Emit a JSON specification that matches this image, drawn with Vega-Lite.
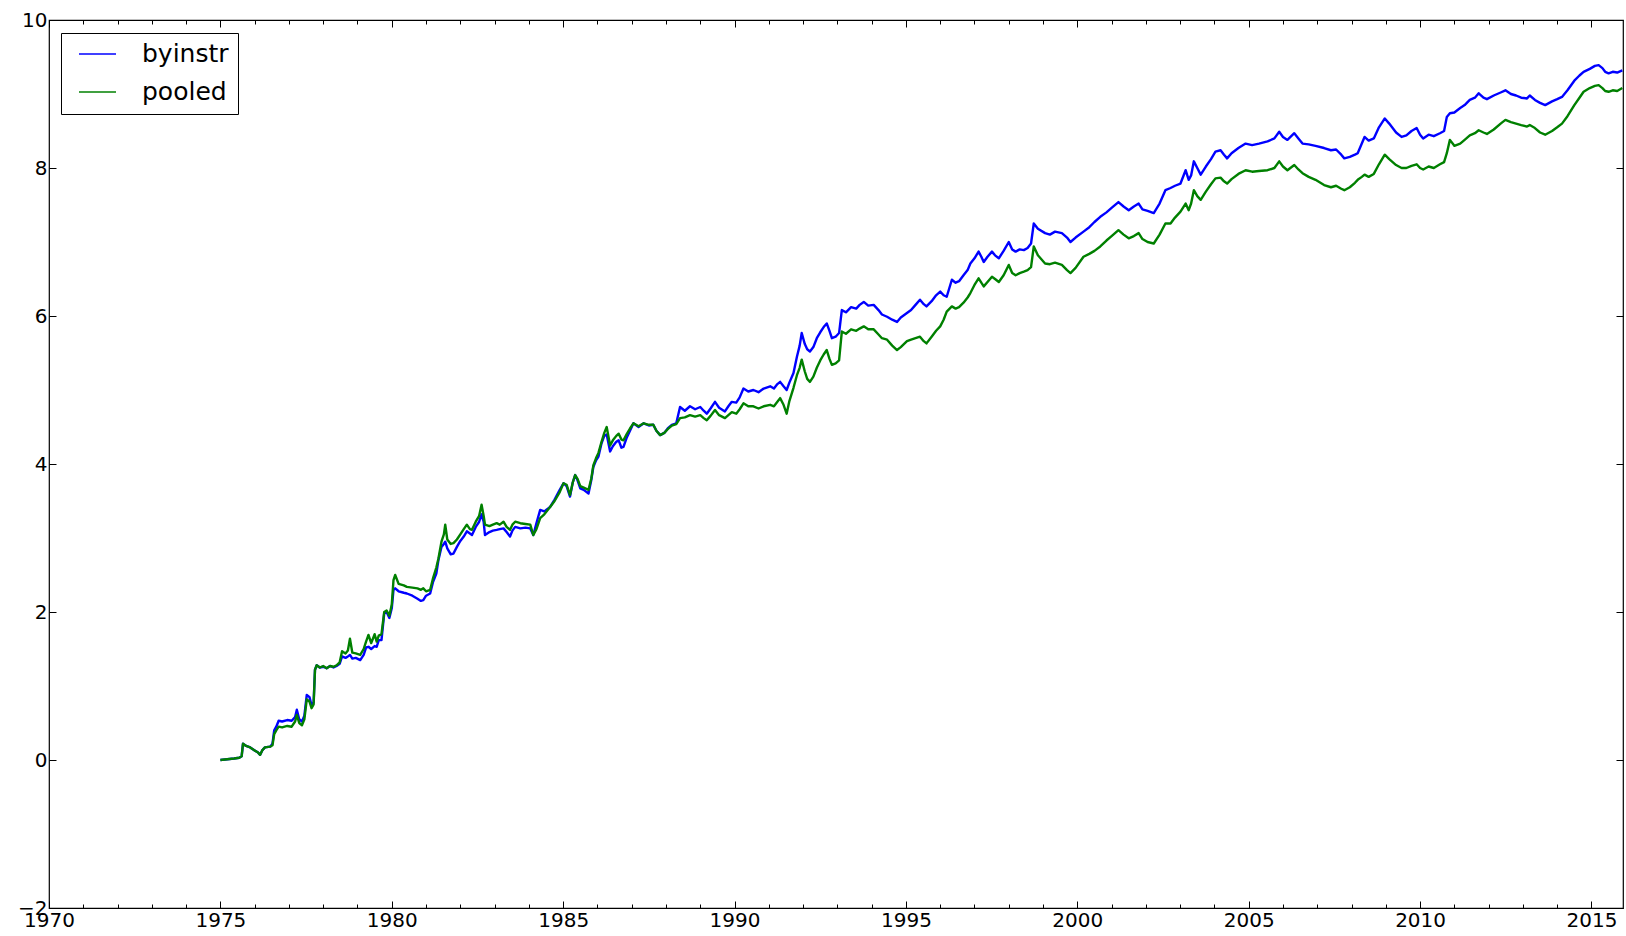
{
  "$schema": "https://vega.github.io/schema/vega-lite/v6.json",
  "width": 1574,
  "height": 888,
  "autosize": "none",
  "padding": {"left": 49, "top": 20, "right": 3, "bottom": 28},
  "background": "#ffffff",
  "config": {
    "view": {"stroke": "#000000", "strokeWidth": 1.2},
    "axis": {
      "domain": false,
      "grid": false,
      "labelFont": "DejaVu Sans",
      "labelFontSize": 20,
      "labelColor": "#000000",
      "tickColor": "#000000",
      "tickWidth": 1,
      "title": null
    }
  },
  "data": {
    "values": [
      {"year": 1975.00, "byinstr": 0.00, "pooled": 0.00},
      {"year": 1975.20, "byinstr": 0.01, "pooled": 0.01},
      {"year": 1975.40, "byinstr": 0.02, "pooled": 0.02},
      {"year": 1975.55, "byinstr": 0.03, "pooled": 0.03},
      {"year": 1975.62, "byinstr": 0.05, "pooled": 0.05},
      {"year": 1975.66, "byinstr": 0.22, "pooled": 0.22},
      {"year": 1975.75, "byinstr": 0.19, "pooled": 0.19},
      {"year": 1975.87, "byinstr": 0.17, "pooled": 0.17},
      {"year": 1976.00, "byinstr": 0.13, "pooled": 0.13},
      {"year": 1976.10, "byinstr": 0.10, "pooled": 0.10},
      {"year": 1976.16, "byinstr": 0.07, "pooled": 0.07},
      {"year": 1976.22, "byinstr": 0.13, "pooled": 0.13},
      {"year": 1976.30, "byinstr": 0.17, "pooled": 0.17},
      {"year": 1976.45, "byinstr": 0.18, "pooled": 0.18},
      {"year": 1976.52, "byinstr": 0.22, "pooled": 0.20},
      {"year": 1976.57, "byinstr": 0.40, "pooled": 0.35},
      {"year": 1976.63, "byinstr": 0.45, "pooled": 0.40},
      {"year": 1976.70, "byinstr": 0.53, "pooled": 0.45},
      {"year": 1976.80, "byinstr": 0.52, "pooled": 0.44},
      {"year": 1976.95, "byinstr": 0.54, "pooled": 0.46},
      {"year": 1977.08, "byinstr": 0.53, "pooled": 0.45},
      {"year": 1977.18, "byinstr": 0.58, "pooled": 0.52},
      {"year": 1977.23, "byinstr": 0.68, "pooled": 0.61},
      {"year": 1977.30, "byinstr": 0.55, "pooled": 0.50},
      {"year": 1977.38, "byinstr": 0.52, "pooled": 0.47},
      {"year": 1977.45, "byinstr": 0.60, "pooled": 0.55},
      {"year": 1977.52, "byinstr": 0.88, "pooled": 0.82},
      {"year": 1977.60, "byinstr": 0.85, "pooled": 0.79},
      {"year": 1977.66, "byinstr": 0.74, "pooled": 0.70},
      {"year": 1977.72, "byinstr": 0.78, "pooled": 0.75},
      {"year": 1977.76, "byinstr": 1.22, "pooled": 1.22},
      {"year": 1977.81, "byinstr": 1.28, "pooled": 1.28},
      {"year": 1977.90, "byinstr": 1.25, "pooled": 1.25},
      {"year": 1978.00, "byinstr": 1.26, "pooled": 1.27},
      {"year": 1978.10, "byinstr": 1.24, "pooled": 1.24},
      {"year": 1978.20, "byinstr": 1.27, "pooled": 1.27},
      {"year": 1978.30, "byinstr": 1.25, "pooled": 1.26},
      {"year": 1978.39, "byinstr": 1.27, "pooled": 1.28},
      {"year": 1978.48, "byinstr": 1.30, "pooled": 1.32},
      {"year": 1978.55, "byinstr": 1.40, "pooled": 1.47},
      {"year": 1978.65, "byinstr": 1.38, "pooled": 1.44},
      {"year": 1978.72, "byinstr": 1.40, "pooled": 1.48},
      {"year": 1978.78, "byinstr": 1.42, "pooled": 1.64},
      {"year": 1978.85, "byinstr": 1.37, "pooled": 1.45},
      {"year": 1978.95, "byinstr": 1.38, "pooled": 1.44},
      {"year": 1979.08, "byinstr": 1.35, "pooled": 1.42},
      {"year": 1979.18, "byinstr": 1.42, "pooled": 1.50},
      {"year": 1979.25, "byinstr": 1.52, "pooled": 1.60},
      {"year": 1979.32, "byinstr": 1.53, "pooled": 1.69},
      {"year": 1979.40, "byinstr": 1.50, "pooled": 1.58},
      {"year": 1979.50, "byinstr": 1.54, "pooled": 1.70},
      {"year": 1979.56, "byinstr": 1.53, "pooled": 1.60},
      {"year": 1979.62, "byinstr": 1.62, "pooled": 1.68},
      {"year": 1979.70, "byinstr": 1.62, "pooled": 1.70},
      {"year": 1979.78, "byinstr": 1.98, "pooled": 2.00},
      {"year": 1979.85, "byinstr": 2.00, "pooled": 2.02},
      {"year": 1979.93, "byinstr": 1.92, "pooled": 1.95},
      {"year": 1980.00, "byinstr": 2.05, "pooled": 2.10},
      {"year": 1980.05, "byinstr": 2.30, "pooled": 2.43},
      {"year": 1980.10, "byinstr": 2.32, "pooled": 2.50},
      {"year": 1980.20, "byinstr": 2.28, "pooled": 2.38},
      {"year": 1980.35, "byinstr": 2.26, "pooled": 2.36},
      {"year": 1980.44, "byinstr": 2.25, "pooled": 2.34},
      {"year": 1980.60, "byinstr": 2.22, "pooled": 2.33},
      {"year": 1980.75, "byinstr": 2.18, "pooled": 2.32},
      {"year": 1980.85, "byinstr": 2.15, "pooled": 2.30},
      {"year": 1980.92, "byinstr": 2.16, "pooled": 2.32},
      {"year": 1981.00, "byinstr": 2.22, "pooled": 2.28},
      {"year": 1981.12, "byinstr": 2.25, "pooled": 2.30},
      {"year": 1981.20, "byinstr": 2.40, "pooled": 2.45},
      {"year": 1981.30, "byinstr": 2.52, "pooled": 2.60},
      {"year": 1981.36, "byinstr": 2.70, "pooled": 2.72},
      {"year": 1981.45, "byinstr": 2.88, "pooled": 2.95},
      {"year": 1981.52, "byinstr": 2.92, "pooled": 3.05},
      {"year": 1981.56, "byinstr": 2.95, "pooled": 3.18},
      {"year": 1981.62, "byinstr": 2.86, "pooled": 2.98},
      {"year": 1981.72, "byinstr": 2.78, "pooled": 2.92},
      {"year": 1981.80, "byinstr": 2.79, "pooled": 2.93},
      {"year": 1981.90, "byinstr": 2.88, "pooled": 2.98},
      {"year": 1982.00, "byinstr": 2.96, "pooled": 3.05},
      {"year": 1982.10, "byinstr": 3.02, "pooled": 3.12},
      {"year": 1982.19, "byinstr": 3.09, "pooled": 3.18},
      {"year": 1982.28, "byinstr": 3.06, "pooled": 3.12},
      {"year": 1982.34, "byinstr": 3.04, "pooled": 3.11},
      {"year": 1982.45, "byinstr": 3.15, "pooled": 3.22},
      {"year": 1982.55, "byinstr": 3.22, "pooled": 3.30},
      {"year": 1982.62, "byinstr": 3.32, "pooled": 3.45},
      {"year": 1982.68, "byinstr": 3.22, "pooled": 3.30},
      {"year": 1982.72, "byinstr": 3.04, "pooled": 3.18},
      {"year": 1982.85, "byinstr": 3.08, "pooled": 3.16},
      {"year": 1982.95, "byinstr": 3.10, "pooled": 3.18},
      {"year": 1983.06, "byinstr": 3.11, "pooled": 3.20},
      {"year": 1983.15, "byinstr": 3.12, "pooled": 3.18},
      {"year": 1983.26, "byinstr": 3.13, "pooled": 3.22},
      {"year": 1983.35, "byinstr": 3.08, "pooled": 3.15},
      {"year": 1983.45, "byinstr": 3.02, "pooled": 3.11},
      {"year": 1983.52, "byinstr": 3.10, "pooled": 3.18},
      {"year": 1983.60, "byinstr": 3.15, "pooled": 3.22},
      {"year": 1983.75, "byinstr": 3.13, "pooled": 3.20},
      {"year": 1983.90, "byinstr": 3.14, "pooled": 3.19},
      {"year": 1984.04, "byinstr": 3.13, "pooled": 3.18},
      {"year": 1984.13, "byinstr": 3.04, "pooled": 3.04},
      {"year": 1984.22, "byinstr": 3.20, "pooled": 3.12},
      {"year": 1984.33, "byinstr": 3.38, "pooled": 3.27},
      {"year": 1984.45, "byinstr": 3.36, "pooled": 3.32},
      {"year": 1984.62, "byinstr": 3.42, "pooled": 3.42},
      {"year": 1984.75, "byinstr": 3.52, "pooled": 3.50},
      {"year": 1984.90, "byinstr": 3.65, "pooled": 3.62},
      {"year": 1985.01, "byinstr": 3.74, "pooled": 3.74},
      {"year": 1985.10, "byinstr": 3.70, "pooled": 3.72},
      {"year": 1985.20, "byinstr": 3.56, "pooled": 3.58},
      {"year": 1985.28, "byinstr": 3.75, "pooled": 3.75},
      {"year": 1985.35, "byinstr": 3.85, "pooled": 3.85},
      {"year": 1985.42, "byinstr": 3.78, "pooled": 3.80},
      {"year": 1985.50, "byinstr": 3.67, "pooled": 3.70},
      {"year": 1985.60, "byinstr": 3.65, "pooled": 3.68},
      {"year": 1985.74, "byinstr": 3.60, "pooled": 3.65},
      {"year": 1985.82, "byinstr": 3.78, "pooled": 3.80},
      {"year": 1985.88, "byinstr": 3.96, "pooled": 3.98},
      {"year": 1985.96, "byinstr": 4.05, "pooled": 4.08},
      {"year": 1986.03, "byinstr": 4.10, "pooled": 4.15},
      {"year": 1986.12, "byinstr": 4.28, "pooled": 4.30},
      {"year": 1986.20, "byinstr": 4.38, "pooled": 4.42},
      {"year": 1986.27, "byinstr": 4.40, "pooled": 4.50},
      {"year": 1986.37, "byinstr": 4.17, "pooled": 4.25},
      {"year": 1986.45, "byinstr": 4.24, "pooled": 4.32},
      {"year": 1986.55, "byinstr": 4.30, "pooled": 4.38},
      {"year": 1986.62, "byinstr": 4.32, "pooled": 4.41},
      {"year": 1986.70, "byinstr": 4.22, "pooled": 4.33},
      {"year": 1986.76, "byinstr": 4.23, "pooled": 4.32},
      {"year": 1986.85, "byinstr": 4.35, "pooled": 4.40},
      {"year": 1986.95, "byinstr": 4.45, "pooled": 4.48},
      {"year": 1987.05, "byinstr": 4.55, "pooled": 4.55},
      {"year": 1987.20, "byinstr": 4.50, "pooled": 4.51},
      {"year": 1987.35, "byinstr": 4.55, "pooled": 4.55},
      {"year": 1987.50, "byinstr": 4.52, "pooled": 4.53},
      {"year": 1987.63, "byinstr": 4.53, "pooled": 4.53},
      {"year": 1987.72, "byinstr": 4.45, "pooled": 4.45},
      {"year": 1987.83, "byinstr": 4.39, "pooled": 4.39},
      {"year": 1987.95, "byinstr": 4.42, "pooled": 4.42},
      {"year": 1988.05, "byinstr": 4.48, "pooled": 4.47},
      {"year": 1988.17, "byinstr": 4.53, "pooled": 4.52},
      {"year": 1988.30, "byinstr": 4.55, "pooled": 4.54},
      {"year": 1988.41, "byinstr": 4.77, "pooled": 4.62},
      {"year": 1988.55, "byinstr": 4.72, "pooled": 4.63},
      {"year": 1988.70, "byinstr": 4.78, "pooled": 4.66},
      {"year": 1988.85, "byinstr": 4.74, "pooled": 4.64},
      {"year": 1989.00, "byinstr": 4.77, "pooled": 4.66},
      {"year": 1989.10, "byinstr": 4.72, "pooled": 4.62},
      {"year": 1989.19, "byinstr": 4.68, "pooled": 4.59},
      {"year": 1989.30, "byinstr": 4.75, "pooled": 4.65},
      {"year": 1989.43, "byinstr": 4.84, "pooled": 4.73},
      {"year": 1989.55, "byinstr": 4.76, "pooled": 4.66},
      {"year": 1989.72, "byinstr": 4.71, "pooled": 4.62},
      {"year": 1989.82, "byinstr": 4.78, "pooled": 4.66},
      {"year": 1989.92, "byinstr": 4.84, "pooled": 4.70},
      {"year": 1990.05, "byinstr": 4.83, "pooled": 4.68},
      {"year": 1990.15, "byinstr": 4.90, "pooled": 4.74},
      {"year": 1990.26, "byinstr": 5.02, "pooled": 4.82},
      {"year": 1990.40, "byinstr": 4.98, "pooled": 4.78},
      {"year": 1990.55, "byinstr": 5.00, "pooled": 4.78},
      {"year": 1990.70, "byinstr": 4.97, "pooled": 4.75},
      {"year": 1990.85, "byinstr": 5.02, "pooled": 4.78},
      {"year": 1991.04, "byinstr": 5.05, "pooled": 4.80},
      {"year": 1991.15, "byinstr": 5.02, "pooled": 4.78},
      {"year": 1991.25, "byinstr": 5.08, "pooled": 4.84},
      {"year": 1991.33, "byinstr": 5.11, "pooled": 4.89},
      {"year": 1991.43, "byinstr": 5.05, "pooled": 4.80},
      {"year": 1991.52, "byinstr": 5.00, "pooled": 4.68},
      {"year": 1991.60, "byinstr": 5.10, "pooled": 4.85},
      {"year": 1991.72, "byinstr": 5.23, "pooled": 5.03},
      {"year": 1991.82, "byinstr": 5.45, "pooled": 5.20},
      {"year": 1991.90, "byinstr": 5.60, "pooled": 5.30},
      {"year": 1991.96, "byinstr": 5.77, "pooled": 5.41},
      {"year": 1992.05, "byinstr": 5.62, "pooled": 5.25},
      {"year": 1992.12, "byinstr": 5.55, "pooled": 5.15},
      {"year": 1992.20, "byinstr": 5.52, "pooled": 5.11},
      {"year": 1992.30, "byinstr": 5.58, "pooled": 5.18},
      {"year": 1992.40, "byinstr": 5.70, "pooled": 5.30},
      {"year": 1992.50, "byinstr": 5.78, "pooled": 5.40},
      {"year": 1992.60, "byinstr": 5.85, "pooled": 5.48},
      {"year": 1992.69, "byinstr": 5.90, "pooled": 5.54},
      {"year": 1992.77, "byinstr": 5.80, "pooled": 5.42},
      {"year": 1992.84, "byinstr": 5.70, "pooled": 5.34},
      {"year": 1992.95, "byinstr": 5.72, "pooled": 5.36},
      {"year": 1993.05, "byinstr": 5.77, "pooled": 5.40},
      {"year": 1993.13, "byinstr": 6.08, "pooled": 5.79},
      {"year": 1993.25, "byinstr": 6.05, "pooled": 5.76},
      {"year": 1993.40, "byinstr": 6.12, "pooled": 5.82},
      {"year": 1993.55, "byinstr": 6.10, "pooled": 5.80},
      {"year": 1993.65, "byinstr": 6.15, "pooled": 5.83},
      {"year": 1993.77, "byinstr": 6.19, "pooled": 5.86},
      {"year": 1993.90, "byinstr": 6.14, "pooled": 5.82},
      {"year": 1994.06, "byinstr": 6.15, "pooled": 5.82},
      {"year": 1994.20, "byinstr": 6.08, "pooled": 5.75},
      {"year": 1994.30, "byinstr": 6.02, "pooled": 5.70},
      {"year": 1994.45, "byinstr": 5.99, "pooled": 5.68},
      {"year": 1994.60, "byinstr": 5.95, "pooled": 5.60},
      {"year": 1994.74, "byinstr": 5.92, "pooled": 5.54},
      {"year": 1994.85, "byinstr": 5.98, "pooled": 5.58},
      {"year": 1995.03, "byinstr": 6.04, "pooled": 5.66},
      {"year": 1995.15, "byinstr": 6.08, "pooled": 5.68},
      {"year": 1995.28, "byinstr": 6.15, "pooled": 5.70},
      {"year": 1995.41, "byinstr": 6.22, "pooled": 5.72},
      {"year": 1995.52, "byinstr": 6.16, "pooled": 5.66},
      {"year": 1995.60, "byinstr": 6.13, "pooled": 5.63},
      {"year": 1995.75, "byinstr": 6.20, "pooled": 5.72},
      {"year": 1995.88, "byinstr": 6.28, "pooled": 5.80},
      {"year": 1996.00, "byinstr": 6.33, "pooled": 5.86},
      {"year": 1996.10, "byinstr": 6.28, "pooled": 5.95},
      {"year": 1996.19, "byinstr": 6.26, "pooled": 6.06},
      {"year": 1996.34, "byinstr": 6.49, "pooled": 6.13},
      {"year": 1996.45, "byinstr": 6.45, "pooled": 6.10},
      {"year": 1996.55, "byinstr": 6.47, "pooled": 6.12},
      {"year": 1996.68, "byinstr": 6.55, "pooled": 6.18},
      {"year": 1996.80, "byinstr": 6.62, "pooled": 6.25},
      {"year": 1996.88, "byinstr": 6.71, "pooled": 6.31},
      {"year": 1997.00, "byinstr": 6.78, "pooled": 6.42},
      {"year": 1997.12, "byinstr": 6.87, "pooled": 6.51},
      {"year": 1997.20, "byinstr": 6.80, "pooled": 6.45},
      {"year": 1997.27, "byinstr": 6.73, "pooled": 6.40},
      {"year": 1997.38, "byinstr": 6.80, "pooled": 6.46},
      {"year": 1997.51, "byinstr": 6.87, "pooled": 6.53},
      {"year": 1997.60, "byinstr": 6.82, "pooled": 6.50},
      {"year": 1997.71, "byinstr": 6.78, "pooled": 6.46},
      {"year": 1997.85, "byinstr": 6.88, "pooled": 6.55},
      {"year": 1998.00, "byinstr": 7.00, "pooled": 6.69},
      {"year": 1998.10, "byinstr": 6.90, "pooled": 6.58},
      {"year": 1998.20, "byinstr": 6.87, "pooled": 6.55},
      {"year": 1998.32, "byinstr": 6.90, "pooled": 6.58},
      {"year": 1998.44, "byinstr": 6.89, "pooled": 6.60},
      {"year": 1998.55, "byinstr": 6.92, "pooled": 6.62},
      {"year": 1998.65, "byinstr": 6.98, "pooled": 6.66},
      {"year": 1998.73, "byinstr": 7.25, "pooled": 6.94},
      {"year": 1998.85, "byinstr": 7.18, "pooled": 6.82},
      {"year": 1999.06, "byinstr": 7.12, "pooled": 6.71},
      {"year": 1999.20, "byinstr": 7.10, "pooled": 6.70},
      {"year": 1999.35, "byinstr": 7.14, "pooled": 6.72},
      {"year": 1999.55, "byinstr": 7.12, "pooled": 6.69},
      {"year": 1999.70, "byinstr": 7.06, "pooled": 6.62},
      {"year": 1999.80, "byinstr": 7.00, "pooled": 6.58},
      {"year": 1999.95, "byinstr": 7.06, "pooled": 6.65},
      {"year": 2000.18, "byinstr": 7.14, "pooled": 6.80},
      {"year": 2000.35, "byinstr": 7.20, "pooled": 6.84},
      {"year": 2000.50, "byinstr": 7.27, "pooled": 6.88},
      {"year": 2000.67, "byinstr": 7.34, "pooled": 6.94},
      {"year": 2000.85, "byinstr": 7.40, "pooled": 7.02},
      {"year": 2001.00, "byinstr": 7.46, "pooled": 7.08},
      {"year": 2001.20, "byinstr": 7.54, "pooled": 7.16},
      {"year": 2001.35, "byinstr": 7.48, "pooled": 7.10},
      {"year": 2001.50, "byinstr": 7.43, "pooled": 7.05},
      {"year": 2001.65, "byinstr": 7.48, "pooled": 7.08},
      {"year": 2001.79, "byinstr": 7.52, "pooled": 7.12},
      {"year": 2001.90, "byinstr": 7.44, "pooled": 7.04},
      {"year": 2002.05, "byinstr": 7.42, "pooled": 7.00},
      {"year": 2002.23, "byinstr": 7.39, "pooled": 6.98},
      {"year": 2002.40, "byinstr": 7.52, "pooled": 7.10},
      {"year": 2002.57, "byinstr": 7.70, "pooled": 7.25},
      {"year": 2002.72, "byinstr": 7.73, "pooled": 7.25},
      {"year": 2002.85, "byinstr": 7.76, "pooled": 7.33},
      {"year": 2003.01, "byinstr": 7.79, "pooled": 7.41},
      {"year": 2003.16, "byinstr": 7.97, "pooled": 7.52},
      {"year": 2003.25, "byinstr": 7.84, "pooled": 7.43},
      {"year": 2003.32, "byinstr": 7.90, "pooled": 7.52},
      {"year": 2003.40, "byinstr": 8.09, "pooled": 7.70},
      {"year": 2003.50, "byinstr": 8.00, "pooled": 7.62},
      {"year": 2003.60, "byinstr": 7.91, "pooled": 7.57},
      {"year": 2003.75, "byinstr": 8.02, "pooled": 7.68},
      {"year": 2003.90, "byinstr": 8.12, "pooled": 7.78},
      {"year": 2004.03, "byinstr": 8.22, "pooled": 7.86},
      {"year": 2004.18, "byinstr": 8.24, "pooled": 7.87},
      {"year": 2004.28, "byinstr": 8.18, "pooled": 7.82},
      {"year": 2004.37, "byinstr": 8.13, "pooled": 7.79},
      {"year": 2004.50, "byinstr": 8.20, "pooled": 7.85},
      {"year": 2004.70, "byinstr": 8.27, "pooled": 7.92},
      {"year": 2004.91, "byinstr": 8.33, "pooled": 7.97},
      {"year": 2005.10, "byinstr": 8.31, "pooled": 7.95},
      {"year": 2005.30, "byinstr": 8.33, "pooled": 7.96},
      {"year": 2005.55, "byinstr": 8.36, "pooled": 7.97},
      {"year": 2005.75, "byinstr": 8.40, "pooled": 8.00},
      {"year": 2005.89, "byinstr": 8.49, "pooled": 8.09},
      {"year": 2006.00, "byinstr": 8.42, "pooled": 8.02},
      {"year": 2006.13, "byinstr": 8.38, "pooled": 7.97},
      {"year": 2006.33, "byinstr": 8.47, "pooled": 8.04},
      {"year": 2006.45, "byinstr": 8.40, "pooled": 7.98},
      {"year": 2006.57, "byinstr": 8.33, "pooled": 7.93},
      {"year": 2006.75, "byinstr": 8.32, "pooled": 7.88},
      {"year": 2006.95, "byinstr": 8.30, "pooled": 7.84},
      {"year": 2007.20, "byinstr": 8.27, "pooled": 7.77},
      {"year": 2007.40, "byinstr": 8.24, "pooled": 7.74},
      {"year": 2007.55, "byinstr": 8.25, "pooled": 7.76},
      {"year": 2007.70, "byinstr": 8.18, "pooled": 7.72},
      {"year": 2007.79, "byinstr": 8.13, "pooled": 7.70},
      {"year": 2007.95, "byinstr": 8.15, "pooled": 7.74},
      {"year": 2008.10, "byinstr": 8.18, "pooled": 7.80},
      {"year": 2008.18, "byinstr": 8.20, "pooled": 7.84},
      {"year": 2008.30, "byinstr": 8.33, "pooled": 7.88},
      {"year": 2008.38, "byinstr": 8.42, "pooled": 7.91},
      {"year": 2008.50, "byinstr": 8.37, "pooled": 7.88},
      {"year": 2008.65, "byinstr": 8.40, "pooled": 7.92},
      {"year": 2008.80, "byinstr": 8.55, "pooled": 8.05},
      {"year": 2008.97, "byinstr": 8.67, "pooled": 8.18},
      {"year": 2009.10, "byinstr": 8.60, "pooled": 8.12},
      {"year": 2009.30, "byinstr": 8.48, "pooled": 8.04},
      {"year": 2009.46, "byinstr": 8.42, "pooled": 8.00},
      {"year": 2009.60, "byinstr": 8.44, "pooled": 8.00},
      {"year": 2009.75, "byinstr": 8.50, "pooled": 8.03},
      {"year": 2009.90, "byinstr": 8.54, "pooled": 8.05},
      {"year": 2010.00, "byinstr": 8.45, "pooled": 8.00},
      {"year": 2010.09, "byinstr": 8.40, "pooled": 7.98},
      {"year": 2010.25, "byinstr": 8.45, "pooled": 8.02},
      {"year": 2010.40, "byinstr": 8.43, "pooled": 8.00},
      {"year": 2010.58, "byinstr": 8.47, "pooled": 8.05},
      {"year": 2010.70, "byinstr": 8.50, "pooled": 8.08},
      {"year": 2010.78, "byinstr": 8.69, "pooled": 8.20},
      {"year": 2010.87, "byinstr": 8.74, "pooled": 8.38},
      {"year": 2011.00, "byinstr": 8.75, "pooled": 8.30},
      {"year": 2011.17, "byinstr": 8.81, "pooled": 8.33},
      {"year": 2011.30, "byinstr": 8.85, "pooled": 8.38},
      {"year": 2011.45, "byinstr": 8.92, "pooled": 8.44},
      {"year": 2011.60, "byinstr": 8.95, "pooled": 8.47},
      {"year": 2011.71, "byinstr": 9.01, "pooled": 8.51},
      {"year": 2011.85, "byinstr": 8.95, "pooled": 8.48},
      {"year": 2011.95, "byinstr": 8.93, "pooled": 8.46},
      {"year": 2012.15, "byinstr": 8.98, "pooled": 8.52},
      {"year": 2012.35, "byinstr": 9.02, "pooled": 8.60},
      {"year": 2012.49, "byinstr": 9.05, "pooled": 8.65},
      {"year": 2012.65, "byinstr": 9.00, "pooled": 8.62},
      {"year": 2012.80, "byinstr": 8.98, "pooled": 8.60},
      {"year": 2012.95, "byinstr": 8.95, "pooled": 8.58},
      {"year": 2013.12, "byinstr": 8.94, "pooled": 8.56},
      {"year": 2013.20, "byinstr": 8.98, "pooled": 8.58},
      {"year": 2013.35, "byinstr": 8.92, "pooled": 8.54},
      {"year": 2013.50, "byinstr": 8.88, "pooled": 8.48},
      {"year": 2013.65, "byinstr": 8.85, "pooled": 8.45},
      {"year": 2013.85, "byinstr": 8.90, "pooled": 8.50},
      {"year": 2014.00, "byinstr": 8.93, "pooled": 8.55},
      {"year": 2014.14, "byinstr": 8.96, "pooled": 8.60},
      {"year": 2014.30, "byinstr": 9.05, "pooled": 8.70},
      {"year": 2014.50, "byinstr": 9.18, "pooled": 8.85},
      {"year": 2014.65, "byinstr": 9.25, "pooled": 8.95},
      {"year": 2014.77, "byinstr": 9.30, "pooled": 9.03},
      {"year": 2014.95, "byinstr": 9.34, "pooled": 9.08},
      {"year": 2015.10, "byinstr": 9.38, "pooled": 9.11},
      {"year": 2015.21, "byinstr": 9.39, "pooled": 9.12},
      {"year": 2015.32, "byinstr": 9.35, "pooled": 9.08},
      {"year": 2015.40, "byinstr": 9.30, "pooled": 9.04},
      {"year": 2015.50, "byinstr": 9.28, "pooled": 9.03},
      {"year": 2015.62, "byinstr": 9.30, "pooled": 9.05},
      {"year": 2015.75, "byinstr": 9.29, "pooled": 9.04},
      {"year": 2015.90, "byinstr": 9.32, "pooled": 9.08}
    ]
  },
  "transform": [{"fold": ["byinstr", "pooled"], "as": ["series", "value"]}],
  "layer": [
    {
      "mark": {"type": "line", "strokeWidth": 2.4, "strokeJoin": "round"},
      "encoding": {
        "x": {
          "field": "year",
          "type": "quantitative",
          "scale": {"domain": [1970, 2015.92], "nice": false, "zero": false},
          "axis": {
            "orient": "bottom",
            "values": [1970, 1971, 1972, 1973, 1974, 1975, 1976, 1977, 1978, 1979, 1980, 1981, 1982, 1983, 1984, 1985, 1986, 1987, 1988, 1989, 1990, 1991, 1992, 1993, 1994, 1995, 1996, 1997, 1998, 1999, 2000, 2001, 2002, 2003, 2004, 2005, 2006, 2007, 2008, 2009, 2010, 2011, 2012, 2013, 2014, 2015],
            "format": "d",
            "labelExpr": "datum.value % 5 === 0 ? datum.label : ''",
            "labelFlush": false,
            "labelOverlap": false,
            "labelPadding": 9,
            "tickSize": {"condition": {"test": "datum.value % 5 === 0", "value": -7}, "value": -4}
          }
        },
        "y": {
          "field": "value",
          "type": "quantitative",
          "scale": {"domain": [-2, 10], "nice": false, "zero": false},
          "axis": {
            "orient": "left",
            "values": [-2, 0, 2, 4, 6, 8, 10],
            "format": "d",
            "labelFlush": false,
            "labelOverlap": false,
            "labelPadding": 9,
            "tickSize": -7
          }
        },
        "color": {
          "field": "series",
          "type": "nominal",
          "scale": {"domain": ["byinstr", "pooled"], "range": ["#0000ff", "#008000"]},
          "legend": {
            "title": null,
            "orient": "none",
            "legendX": 12,
            "legendY": 13,
            "symbolType": "stroke",
            "symbolSize": 1369,
            "symbolStrokeWidth": 1.3,
            "symbolOffset": 8,
            "labelFont": "DejaVu Sans",
            "labelFontSize": 25,
            "labelColor": "#000000",
            "labelOffset": 25,
            "padding": 9,
            "rowPadding": 13,
            "clipHeight": 24,
            "strokeColor": "#000000",
            "fillColor": "#ffffff"
          }
        }
      }
    },
    {
      "mark": {"type": "point", "opacity": 0},
      "encoding": {
        "x": {
          "field": "year",
          "type": "quantitative",
          "axis": {
            "orient": "top",
            "values": [1970, 1971, 1972, 1973, 1974, 1975, 1976, 1977, 1978, 1979, 1980, 1981, 1982, 1983, 1984, 1985, 1986, 1987, 1988, 1989, 1990, 1991, 1992, 1993, 1994, 1995, 1996, 1997, 1998, 1999, 2000, 2001, 2002, 2003, 2004, 2005, 2006, 2007, 2008, 2009, 2010, 2011, 2012, 2013, 2014, 2015],
            "labels": false,
            "tickSize": {"condition": {"test": "datum.value % 5 === 0", "value": -7}, "value": -4}
          }
        },
        "y": {
          "field": "value",
          "type": "quantitative",
          "axis": {
            "orient": "right",
            "values": [-2, 0, 2, 4, 6, 8, 10],
            "labels": false,
            "tickSize": -7
          }
        }
      }
    }
  ],
  "resolve": {"axis": {"x": "independent", "y": "independent"}}
}
